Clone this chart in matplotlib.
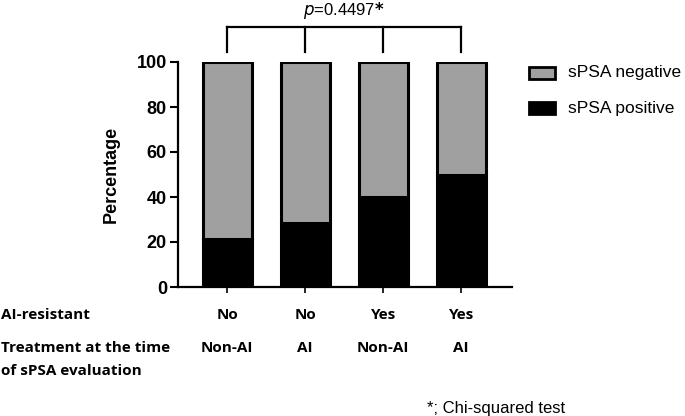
import matplotlib
matplotlib.use("Agg")
import matplotlib.pyplot as plt
import matplotlib.transforms as mtransforms
from matplotlib.patches import Rectangle

# data
groups = ["G1", "G2", "G3", "G4"]
positive = [21.4, 28.6, 40.0, 50.0]
negative = [100 - v for v in positive]
resistant = ["No", "No", "Yes", "Yes"]
treatment = ["Non-AI", "AI", "Non-AI", "AI"]
p_text = "0.4497"

W, H = 685, 416
fig = plt.figure(figsize=(W / 100, H / 100), dpi=100)
ax = fig.add_axes([178 / W, 1 - 287 / H, (512 - 178) / W, (287 - 62) / H])

x = list(range(len(groups)))
gray = "#a0a0a0"
ax.bar(x, positive, width=0.63, color="black", edgecolor="black", linewidth=2.2, zorder=2)
ax.bar(x, negative, width=0.63, bottom=positive, color=gray, edgecolor="black",
       linewidth=2.2, zorder=2)

ax.set_xlim(-0.63, 3.65)
ax.set_ylim(0, 100)
ax.set_yticks([0, 20, 40, 60, 80, 100])
ax.set_xticks(x)
ax.set_xticklabels([])
for s in ["top", "right"]:
    ax.spines[s].set_visible(False)
for s in ["left", "bottom"]:
    ax.spines[s].set_linewidth(1.6)
ax.tick_params(axis="y", length=6, width=1.5, labelsize=13, pad=2)
ax.tick_params(axis="x", length=4, width=1.2)
for lab in ax.get_yticklabels():
    lab.set_fontfamily("Liberation Sans")
    lab.set_fontweight("bold")
ax.set_ylabel("Percentage", fontsize=13, fontweight="bold", family="Liberation Sans", labelpad=12)

# significance bracket
yb, yt = 104.4, 115.6
ax.plot([x[0], x[-1]], [yt, yt], color="black", lw=1.6, clip_on=False)
for xi in x:
    ax.plot([xi, xi], [yb, yt], color="black", lw=1.6, clip_on=False)
ax.text((x[0] + x[-1]) / 2, 123, r"$\it{p}$=" + p_text + r"$\mathbf{*}$", ha="center",
        va="center", fontsize=12, family="Liberation Sans")

# legend
leg = [("sPSA negative", gray, 73), ("sPSA positive", "black", 108)]
for name, col, yc in leg:
    fig.patches.append(Rectangle((529 / W, 1 - (yc + 6) / H), 26 / W, 12 / H,
                                 facecolor=col, edgecolor="black", lw=2,
                                 transform=fig.transFigure))
    fig.text(568 / W, 1 - yc / H, name, fontsize=12.5, family="Liberation Sans",
             va="center", ha="left")

# table rows under the axis
trans = mtransforms.blended_transform_factory(ax.transData, fig.transFigure)
rowfont = dict(family="Open Sans", fontweight="bold", fontsize=11, va="center")
fig.text(0.002, 1 - 315 / H, "AI-resistant", ha="left", **rowfont)
fig.text(0.002, 1 - 348 / H, "Treatment at the time", ha="left", **rowfont)
fig.text(0.002, 1 - 371 / H, "of sPSA evaluation", ha="left", **rowfont)
for xi, r, t in zip(x, resistant, treatment):
    ax.text(xi, 1 - 315 / H, r, ha="center", transform=trans, **rowfont)
    ax.text(xi, 1 - 348 / H, t, ha="center", transform=trans, **rowfont)

fig.text(427 / W, 1 - 408 / H, "*; Chi-squared test", fontsize=12, family="Liberation Sans",
         ha="left", va="center")

fig.savefig("out.png", dpi=100)
